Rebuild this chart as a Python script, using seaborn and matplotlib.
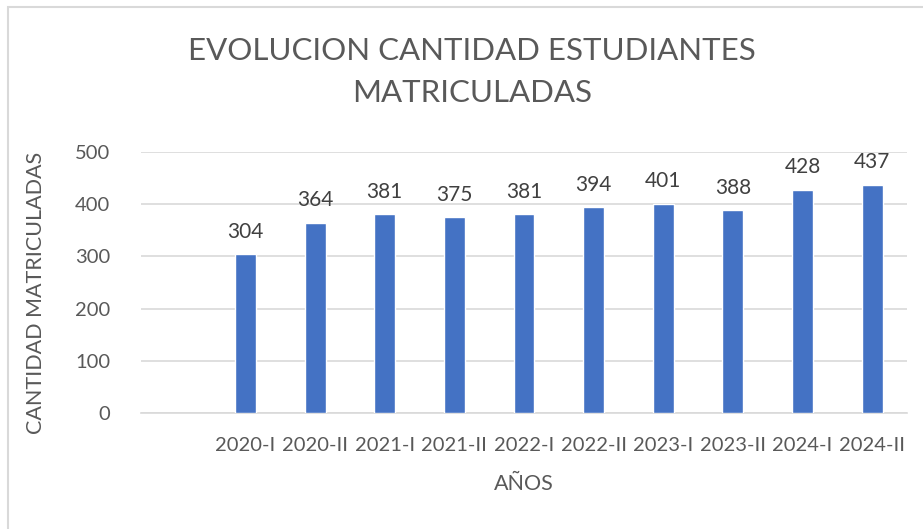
import matplotlib
matplotlib.use("Agg")
import matplotlib.pyplot as plt
import seaborn as sns
import pandas as pd
from matplotlib.patches import Rectangle

periods = ["2020-I", "2020-II", "2021-I", "2021-II", "2022-I",
           "2022-II", "2023-I", "2023-II", "2024-I", "2024-II"]
students = [304, 364, 381, 375, 381, 394, 401, 388, 428, 437]
yticks = [0, 100, 200, 300, 400, 500]

sns.set_theme(style="white")
plt.rcParams['font.family'] = ['Lato', 'DejaVu Sans']

df = pd.DataFrame({"periodo": periods, "cantidad": students})
order = [""] + periods

fig = plt.figure(figsize=(9.23, 5.29), dpi=100)
ax = fig.add_axes([141/923, 1-413/529, (907-141)/923, (413-152)/529])

sns.barplot(data=df, x="periodo", y="cantidad", order=order, color="#4472C4",
            width=0.3, saturation=1, ax=ax, zorder=3)

ax.set_ylim(0, 500)
ax.set_yticks(yticks)
ax.yaxis.grid(True, color="#D9D9D9", linewidth=1.2, zorder=0)
ax.set_axisbelow(True)
for s in ["top", "right", "left"]:
    ax.spines[s].set_visible(False)
ax.spines["bottom"].set_color("#D9D9D9")
ax.spines["bottom"].set_linewidth(1.2)
ax.tick_params(axis="both", length=0, labelsize=14.5, labelcolor="#595959")
ax.tick_params(axis="x", pad=17)
ax.tick_params(axis="y", pad=22)

for c in ax.containers:
    ax.bar_label(c, labels=[f"{int(v)}" for v in students], padding=9,
                 fontsize=15, color="#404040")

ax.set_xlabel("AÑOS", fontsize=15.5, color="#595959", labelpad=15)
ax.set_ylabel("CANTIDAD MATRICULADAS", fontsize=15.5, color="#595959")
ax.yaxis.set_label_coords(-0.124, 0.46)

fig.text(472/923, 1-72/529, "EVOLUCION CANTIDAD ESTUDIANTES\nMATRICULADAS",
         ha="center", va="center", fontsize=22.5, color="#595959", linespacing=1.6)

fig.patches.append(Rectangle((8/923, -0.1), 2, 1.1 - 7/529, transform=fig.transFigure,
                             fill=False, edgecolor="#D9D9D9", linewidth=1.5))

fig.savefig("out.png", dpi=100)
